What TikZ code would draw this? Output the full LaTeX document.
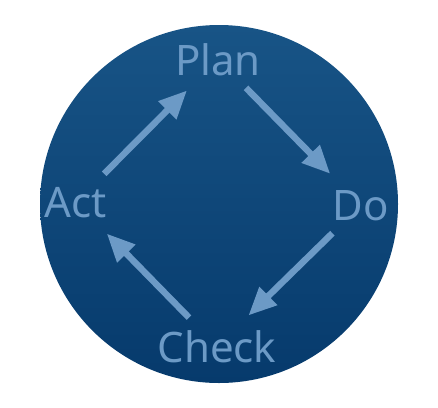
\documentclass[tikz,border=0pt]{standalone}
\usepackage{fontspec}
\setmainfont{Noto Sans}
\usetikzlibrary{arrows.meta}
\definecolor{boardtop}{RGB}{24,84,134}
\definecolor{boardbot}{RGB}{6,58,108}
\definecolor{chalk}{RGB}{108,154,198}
\tikzset{
    phase/.style={anchor=base,inner sep=0pt,text=chalk,font=\fontsize{42}{50}\selectfont},
    cycle/.style={chalk,line width=6.5pt,-{Triangle[length=28pt,width=24pt]},shorten <=40pt,shorten >=44pt}
}
\begin{document}
\begin{tikzpicture}[x=1pt,y=-1pt]
                \useasboundingbox (0,0) rectangle (438,407);
                \shade[top color=boardtop,bottom color=boardbot] (219,204) circle[radius=179pt];
                \node[phase] (plan) at (218,75) {Plan};
                \node[phase] (do) at (361,220) {Do};
                \node[phase] (check) at (217,362) {Check};
                \node[phase] (act) at (76,217) {Act};
                \foreach \from/\to in {act/plan,plan/do,do/check,check/act}{
                    \draw[cycle] (\from.center) -- (\to.center);
                }
            \end{tikzpicture}
\end{document}
